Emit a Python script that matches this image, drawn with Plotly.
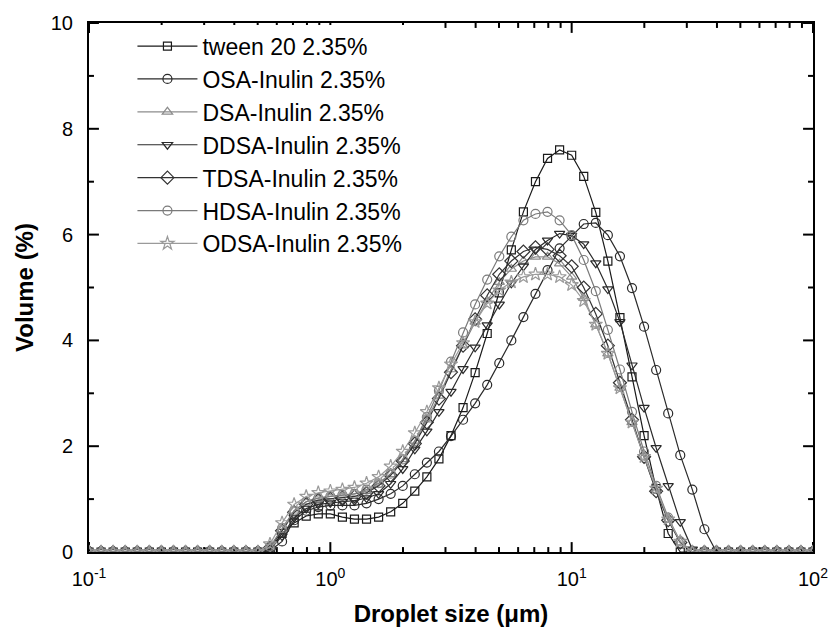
import math
import plotly.graph_objects as go

# size classes (um), log-spaced, Mastersizer style
sizes = [round(10 ** (-1 + 0.05 * k), 4) for k in range(61)]

def pad(vals, start):
    out = [0.0] * 61
    for i, v in enumerate(vals):
        out[start + i] = v
    return out

tween20 = pad([0.05, 0.35, 0.55, 0.68, 0.72, 0.72, 0.66, 0.62, 0.62, 0.66, 0.76, 0.92, 1.15, 1.42,
               1.76, 2.2, 2.73, 3.39, 4.13, 4.9, 5.71, 6.43, 7.0, 7.44, 7.6, 7.5, 7.1, 6.42, 5.5,
               4.43, 3.31, 2.2, 1.2, 0.35, 0.0], 15)
osa = pad([0.02, 0.2, 0.6, 0.78, 0.85, 0.88, 0.88, 0.88, 0.92, 1.0, 1.1, 1.25, 1.47, 1.69, 1.9,
           2.19, 2.5, 2.81, 3.16, 3.57, 4.0, 4.44, 4.88, 5.33, 5.74, 5.97, 6.2, 6.22, 5.99, 5.59,
           4.99, 4.26, 3.44, 2.62, 1.83, 1.18, 0.43, 0.0], 15)
dsa = pad([0.08, 0.42, 0.78, 0.95, 1.02, 1.05, 1.08, 1.1, 1.15, 1.27, 1.47, 1.75, 2.1, 2.5, 2.95,
           3.45, 3.9, 4.35, 4.75, 5.1, 5.35, 5.5, 5.58, 5.58, 5.45, 5.2, 4.8, 4.3, 3.75, 3.1, 2.45,
           1.8, 1.15, 0.6, 0.18, 0.0], 15)
ddsa = pad([0.05, 0.3, 0.65, 0.82, 0.9, 0.93, 0.95, 0.97, 1.02, 1.1, 1.29, 1.57, 1.94, 2.28, 2.65,
            3.03, 3.46, 3.87, 4.29, 4.68, 5.08, 5.4, 5.72, 5.89, 6.02, 5.98, 5.82, 5.46, 4.97, 4.35,
            3.53, 2.73, 1.97, 1.25, 0.57, 0.05, 0.0], 15)
tdsa = pad([0.08, 0.4, 0.75, 0.9, 0.98, 1.0, 1.02, 1.05, 1.12, 1.25, 1.45, 1.72, 2.05, 2.45, 2.9,
            3.4, 3.9, 4.4, 4.85, 5.25, 5.5, 5.68, 5.76, 5.72, 5.6, 5.4, 5.0, 4.5, 3.9, 3.2, 2.5,
            1.8, 1.15, 0.6, 0.18, 0.0], 15)
hdsa = pad([0.1, 0.45, 0.78, 0.95, 1.02, 1.05, 1.08, 1.1, 1.18, 1.3, 1.48, 1.75, 2.1, 2.55, 3.05,
            3.6, 4.15, 4.68, 5.15, 5.59, 5.96, 6.27, 6.39, 6.43, 6.27, 5.99, 5.52, 4.93, 4.2, 3.45,
            2.65, 1.9, 1.25, 0.65, 0.2, 0.0], 15)
odsa = pad([0.15, 0.55, 0.9, 1.05, 1.12, 1.15, 1.18, 1.22, 1.3, 1.42, 1.62, 1.9, 2.25, 2.65, 3.1,
            3.55, 3.95, 4.35, 4.7, 4.95, 5.1, 5.2, 5.25, 5.25, 5.2, 5.05, 4.75, 4.3, 3.75, 3.1, 2.45,
            1.8, 1.2, 0.62, 0.2, 0.0], 15)

names = ["tween 20 2.35%", "OSA-Inulin 2.35%", "DSA-Inulin 2.35%", "DDSA-Inulin 2.35%",
         "TDSA-Inulin 2.35%", "HDSA-Inulin 2.35%", "ODSA-Inulin 2.35%"]
series = [tween20, osa, dsa, ddsa, tdsa, hdsa, odsa]
symbols = ["square-open", "circle-open", "triangle-up-open", "triangle-down-open",
           "diamond-open", "circle-open", "star-open"]
colors = ["#1a1a1a", "#2a2a2a", "#8c8c8c", "#2a2a2a", "#333333", "#7a7a7a", "#9a9a9a"]
msizes = [8, 9, 9, 9, 10, 9, 10]

x_major = [0.1, 1, 10, 100]
x_labels = ["10<sup>-1</sup>", "10<sup>0</sup>", "10<sup>1</sup>", "10<sup>2</sup>"]
x_minor = [m * 10 ** e for e in (-1, 0, 1) for m in range(2, 10)]
y_major = [0, 2, 4, 6, 8, 10]
y_minor = [1, 3, 5, 7, 9]

W, H = 840, 641
ML, MR, MT, MB = 89, 22, 17, 89
PW, PH = W - ML - MR, H - MT - MB
X_RANGE = (-1, 2)
Y_RANGE = (0, 10)
px_per_decade = PW / (X_RANGE[1] - X_RANGE[0])
px_per_unit = PH / (Y_RANGE[1] - Y_RANGE[0])

fig = go.Figure()

# inward tick marks (axis decoration), built from the tick values through the axis scale
def tick_segments(major, minor, long_px, short_px):
    xs, ys = [], []
    # x-axis ticks at bottom and top
    for vals, ln in ((x_major, long_px), (x_minor, short_px)):
        dy = ln / px_per_unit
        for v in vals:
            xs += [v, v, None, v, v, None]
            ys += [Y_RANGE[0], Y_RANGE[0] + dy, None, Y_RANGE[1], Y_RANGE[1] - dy, None]
    # y-axis ticks at left and right
    for vals, ln in ((y_major, long_px), (y_minor, short_px)):
        f = 10 ** (ln / px_per_decade)
        lo, hi = 10 ** X_RANGE[0], 10 ** X_RANGE[1]
        for v in vals:
            xs += [lo, lo * f, None, hi, hi / f, None]
            ys += [v, v, None, v, v, None]
    return xs, ys

tx, ty = tick_segments(None, None, 10, 5)
fig.add_trace(go.Scatter(x=tx, y=ty, mode="lines", showlegend=False, hoverinfo="skip",
                         line=dict(color="black", width=2), cliponaxis=False))

for nm, ys, sym, col, ms in zip(names, series, symbols, colors, msizes):
    fig.add_trace(go.Scatter(
        x=sizes, y=ys, name=nm, mode="lines+markers",
        line=dict(color=col, width=1.2),
        marker=dict(symbol=sym, size=ms, color=col, line=dict(color=col, width=1.2)),
    ))

fig.update_layout(
    width=W, height=H,
    margin=dict(l=ML, r=MR, t=MT, b=MB),
    paper_bgcolor="white", plot_bgcolor="white",
    font=dict(family="Liberation Sans", color="black"),
    showlegend=True,
    legend=dict(x=0.06, y=0.997, xanchor="left", yanchor="top",
                font=dict(size=23), itemwidth=60),
)
fig.update_xaxes(
    type="log", range=list(X_RANGE),
    tickmode="array", tickvals=x_major, ticktext=x_labels,
    ticks="", showline=True, linewidth=2, linecolor="black", mirror=True,
    showgrid=False, zeroline=False,
    tickfont=dict(size=20), ticklabelstandoff=8,
    title=dict(text="<b>Droplet size (μm)</b>", font=dict(size=24), standoff=16),
)
fig.update_yaxes(
    range=list(Y_RANGE), tickmode="array", tickvals=y_major,
    ticks="", showline=True, linewidth=2, linecolor="black", mirror=True,
    showgrid=False, zeroline=False,
    tickfont=dict(size=20), ticklabelstandoff=10,
    title=dict(text="<b>Volume (%)</b>", font=dict(size=24), standoff=10),
)

fig.write_html("out.html")
